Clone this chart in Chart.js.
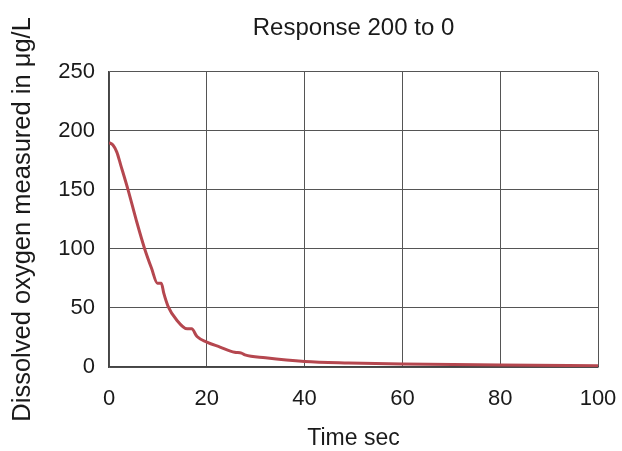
<!DOCTYPE html>
<html>
<head>
<meta charset="utf-8">
<script src="https://cdn.jsdelivr.net/npm/chart.js@4/dist/chart.umd.min.js"></script>
<style>
  html, body { margin: 0; padding: 0; background: #fff; }
  #wrap { width: 622px; height: 451px; }
</style>
</head>
<body>
<div id="wrap"><canvas id="c" width="622" height="451"></canvas></div>
<script>
// Dissolved oxygen step response, 200 -> 0 µg/L
const timeSec = [0, 0.8, 1.6, 2.4, 3.9, 5.6, 7.3, 8.7, 9.9, 10.7, 11.2, 12.1, 13.8, 16.0, 16.9, 18.0, 20.0, 22.7, 25.7, 27.1, 27.8, 32.0, 40, 49, 60, 80, 100];
const oxygen  = [190, 188, 182, 171, 150, 124, 100, 83.6, 71, 71, 62.5, 51.2, 40, 32.3, 32.3, 25.8, 21.1, 16.9, 12.5, 11.8, 10.2, 7.8, 4.7, 3.4, 2.5, 1.7, 1.1];

const xTicks = [0, 20, 40, 60, 80, 100];
const yTicks = [0, 50, 100, 150, 200, 250];

const points = timeSec.map((t, i) => ({ x: t, y: oxygen[i] }));

const FONT = "'Liberation Sans', Arial, Helvetica, sans-serif";
const INK = '#1a1a1a';
const GRID = '#555';

new Chart(document.getElementById('c'), {
  type: 'line',
  data: {
    datasets: [{
      label: 'Response',
      data: points,
      borderColor: '#b5474f',
      borderWidth: 3,
      pointRadius: 0,
      fill: false,
      cubicInterpolationMode: 'monotone'
    }]
  },
  options: {
    responsive: false,
    animation: false,
    layout: { padding: { left: 0, right: 24, top: 0, bottom: 0 } },
    plugins: {
      legend: { display: false },
      tooltip: { enabled: false },
      title: {
        display: true,
        fullSize: false,
        text: 'Response 200 to 0',
        color: INK,
        font: { family: FONT, size: 24, weight: 'normal' },
        padding: { top: 14, bottom: 29 }
      }
    },
    scales: {
      x: {
        type: 'linear',
        min: 0, max: 100,
        afterBuildTicks: s => { s.ticks = xTicks.map(v => ({ value: v })); },
        afterFit: s => { s.height = 84; s.paddingLeft = 0; s.paddingRight = 0; },
        grid: { color: GRID, lineWidth: 1, drawTicks: false },
        border: { color: '#444', width: 1.5 },
        ticks: { color: INK, padding: 19, font: { family: FONT, size: 22 } },
        title: {
          display: true, text: 'Time sec', color: INK,
          font: { family: FONT, size: 23 }, padding: { top: 0, bottom: -1 }
        }
      },
      y: {
        type: 'linear',
        min: 0, max: 250,
        afterBuildTicks: s => { s.ticks = yTicks.map(v => ({ value: v })); },
        afterFit: s => { s.width = 109; },
        grid: { color: GRID, lineWidth: 1, drawTicks: false },
        border: { color: '#444', width: 1.5 },
        ticks: { color: INK, padding: 14, font: { family: FONT, size: 22 } },
        title: {
          display: true, text: 'Dissolved oxygen measured in μg/L', color: INK,
          font: { family: FONT, size: 25.5 }, padding: { top: 8, bottom: 0 }
        }
      }
    }
  }
});
</script>
</body>
</html>
